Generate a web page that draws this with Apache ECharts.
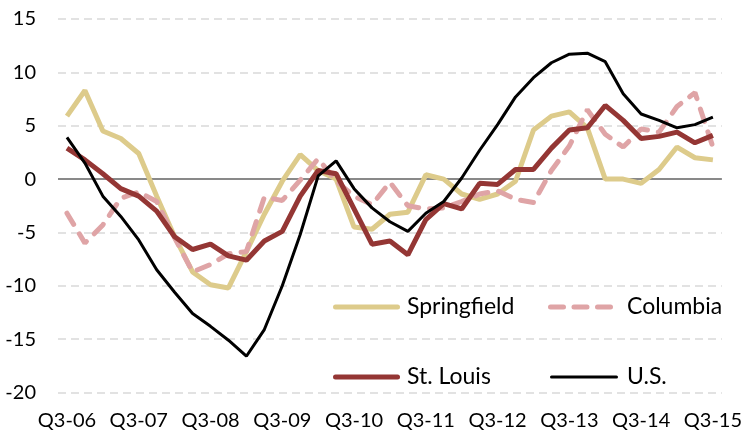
<!DOCTYPE html>
<html>
<head>
<meta charset="utf-8">
<script src="https://cdn.jsdelivr.net/npm/echarts@6/dist/echarts.min.js"></script>
<style>
  html, body { margin: 0; padding: 0; background: #fff; }
  #chart { width: 745px; height: 436px; }
</style>
</head>
<body>
<div id="chart"></div>
<script>
  var quarters = ['Q3-06', 'Q4-06', 'Q1-07', 'Q2-07', 'Q3-07', 'Q4-07', 'Q1-08', 'Q2-08', 'Q3-08', 'Q4-08',
    'Q1-09', 'Q2-09', 'Q3-09', 'Q4-09', 'Q1-10', 'Q2-10', 'Q3-10', 'Q4-10', 'Q1-11', 'Q2-11',
    'Q3-11', 'Q4-11', 'Q1-12', 'Q2-12', 'Q3-12', 'Q4-12', 'Q1-13', 'Q2-13', 'Q3-13', 'Q4-13',
    'Q1-14', 'Q2-14', 'Q3-14', 'Q4-14', 'Q1-15', 'Q2-15', 'Q3-15'];

  var springfield = [5.9, 8.3, 4.5, 3.8, 2.4, -1.6, -5.4, -8.7, -9.9, -10.2,
    -6.8, -3.3, -0.2, 2.3, 0.8, 0.0, -4.5, -4.7, -3.3, -3.1,
    0.4, 0.0, -1.4, -1.9, -1.4, -0.2, 4.6, 5.9, 6.3, 4.8,
    0.0, 0.0, -0.4, 0.9, 3.0, 2.0, 1.8];

  var columbia = [-3.2, -6.0, -4.3, -1.8, -1.2, -2.1, -5.5, -8.7, -8.0, -7.0,
    -6.8, -1.7, -2.0, -0.1, 1.9, -0.2, -1.6, -2.4, -0.3, -2.5,
    -2.8, -2.7, -2.1, -1.4, -1.1, -1.9, -2.2, 0.8, 3.1, 6.5,
    4.2, 3.0, 4.7, 4.4, 6.8, 8.1, 3.0];

  var stLouis = [2.9, 1.8, 0.5, -0.9, -1.6, -3.0, -5.4, -6.6, -6.1, -7.2,
    -7.6, -5.8, -4.9, -1.6, 0.8, 0.5, -2.8, -6.1, -5.8, -7.1,
    -3.8, -2.3, -2.8, -0.4, -0.5, 0.9, 0.9, 2.9, 4.6, 4.8,
    6.9, 5.5, 3.8, 4.0, 4.4, 3.4, 4.1];

  var us = [3.9, 1.5, -1.6, -3.5, -5.7, -8.5, -10.6, -12.6, -13.8, -15.1,
    -16.6, -14.1, -10.0, -5.2, 0.3, 1.7, -0.9, -2.7, -4.0, -4.9,
    -3.2, -2.1, 0.1, 2.7, 5.1, 7.7, 9.5, 10.9, 11.7, 11.8,
    11.0, 8.0, 6.1, 5.5, 4.8, 5.1, 5.8];

  var font = 'Lato';
  var fontSize = 20;
  var colors = { springfield: '#ddcb8b', columbia: '#dfa4a6', stLouis: '#943634', us: '#000' };

  // one legend per entry so the 2x2 block can sit exactly where it is in the picture
  function legendBox(name, left, centerY, width, icon, textGap) {
    return {
      left: left,
      top: centerY - 13,
      padding: 0,
      itemWidth: width,
      itemHeight: 5,
      selectedMode: false,
      data: [{ name: name, icon: icon }],
      textStyle: { fontFamily: font, fontSize: 23, lineHeight: 26, color: '#000', padding: [0, 0, 0, textGap] }
    };
  }
  var solidIcon = 'path://M2.5,0 H64.5 A2.5,2.5 0 0 1 64.5,5 H2.5 A2.5,2.5 0 0 1 2.5,0 Z';
  var dashIcon = 'path://M2.5,0 H15.5 A2.5,2.5 0 0 1 15.5,5 H2.5 A2.5,2.5 0 0 1 2.5,0 Z ' +
    'M26,0 H39 A2.5,2.5 0 0 1 39,5 H26 A2.5,2.5 0 0 1 26,0 Z ' +
    'M49.5,0 H62.5 A2.5,2.5 0 0 1 62.5,5 H49.5 A2.5,2.5 0 0 1 49.5,0 Z';
  var thinIcon = 'path://M1.5,1 H66.5 A1.5,1.5 0 0 1 66.5,4 H1.5 A1.5,1.5 0 0 1 1.5,1 Z';

  var chart = echarts.init(document.getElementById('chart'));
  var option = {
    backgroundColor: '#fff',
    animation: false,
    grid: { left: 58, right: 22, top: 19, bottom: 43.5 },
    legend: [
      legendBox('Springfield', 333, 307, 67, solidIcon, 2),
      legendBox('Columbia', 548, 307, 65, dashIcon, 9),
      legendBox('St. Louis', 333, 377, 67, solidIcon, 2),
      legendBox('U.S.', 550, 377, 68, thinIcon, 4)
    ],
    xAxis: {
      type: 'category',
      data: quarters,
      boundaryGap: true,
      axisLine: { show: false },
      axisTick: { show: false },
      axisLabel: {
        interval: 3,
        margin: 18,
        fontFamily: font,
        fontSize: fontSize,
        color: '#000'
      }
    },
    yAxis: {
      type: 'value',
      min: -20,
      max: 15,
      interval: 5,
      axisLine: { show: false },
      axisTick: { show: false },
      axisLabel: {
        margin: 22,
        fontFamily: font,
        fontSize: fontSize,
        color: '#000'
      },
      splitLine: {
        lineStyle: { color: '#d9d9d9', width: 1.5, type: [8, 5] }
      }
    },
    series: [{
      name: 'Springfield',
      type: 'line',
      data: springfield,
      symbol: 'none',
      lineStyle: { color: colors.springfield, width: 5 },
      itemStyle: { color: colors.springfield },
      markLine: {
        silent: true,
        z: 1,
        symbol: 'none',
        label: { show: false },
        lineStyle: { color: '#898989', width: 2, type: 'solid' },
        data: [{ yAxis: 0 }]
      }
    }, {
      name: 'Columbia',
      type: 'line',
      data: columbia,
      symbol: 'none',
      lineStyle: { color: colors.columbia, width: 5, type: [13, 11], cap: 'round' },
      itemStyle: { color: colors.columbia }
    }, {
      name: 'St. Louis',
      type: 'line',
      data: stLouis,
      symbol: 'none',
      lineStyle: { color: colors.stLouis, width: 5 },
      itemStyle: { color: colors.stLouis }
    }, {
      name: 'U.S.',
      type: 'line',
      data: us,
      symbol: 'none',
      lineStyle: { color: colors.us, width: 3 },
      itemStyle: { color: colors.us }
    }]
  };
  chart.setOption(option);
</script>
</body>
</html>
